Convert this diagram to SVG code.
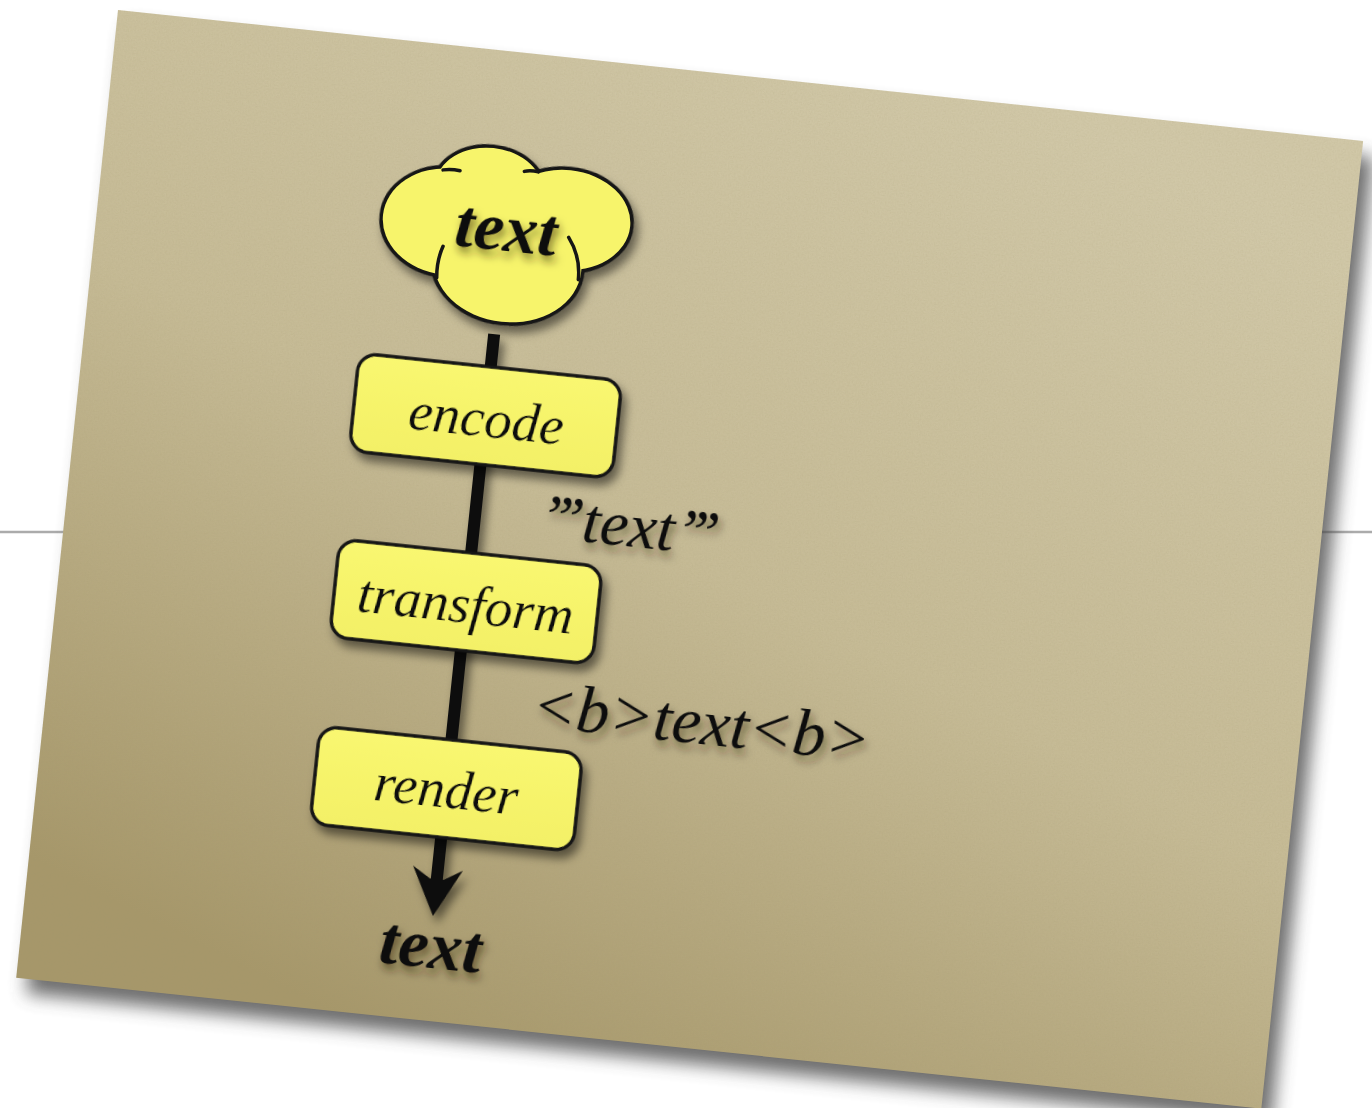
<svg xmlns="http://www.w3.org/2000/svg" width="1372" height="1108" viewBox="0 0 1372 1108">
<defs>
<style>
.box{fill:url(#yel);stroke:#161616;stroke-width:3.5}
.lbl{font-family:"Liberation Serif","Times New Roman",serif;font-style:italic;fill:#111}
.big{font-family:"Liberation Serif","Times New Roman",serif;font-style:italic;font-weight:bold;fill:#0d0d0d}
.crease{fill:none;stroke:#161616;stroke-width:3.5;stroke-linecap:round}
</style>
<linearGradient id="card" x1="0.75" y1="0" x2="0.25" y2="1">
<stop offset="0" stop-color="#d1c8a8"/>
<stop offset="0.5" stop-color="#c6bb96"/>
<stop offset="1" stop-color="#a6976a"/>
</linearGradient>
<linearGradient id="yel" x1="0" y1="0" x2="0" y2="1">
<stop offset="0" stop-color="#f9f770"/>
<stop offset="1" stop-color="#f3f066"/>
</linearGradient>
<filter id="cardShadow" x="-10%" y="-10%" width="120%" height="120%">
<feGaussianBlur stdDeviation="9"/>
</filter>
<filter id="paper" x="0" y="0" width="100%" height="100%">
<feTurbulence type="fractalNoise" baseFrequency="0.7" numOctaves="2" seed="5" result="n"/>
<feColorMatrix in="n" type="matrix" values="0 0 0 0 0.35  0 0 0 0 0.3  0 0 0 0 0.15  0.3 0 0 0 -0.1" result="m"/>
<feComposite in="m" in2="SourceGraphic" operator="in"/>
</filter>
<filter id="ds" x="-20%" y="-30%" width="150%" height="170%">
<feDropShadow dx="5" dy="7" stdDeviation="5" flood-color="#000" flood-opacity="0.5"/>
</filter>
<filter id="ts" x="-20%" y="-40%" width="150%" height="190%">
<feDropShadow dx="3" dy="6" stdDeviation="4" flood-color="#2a2400" flood-opacity="0.55"/>
</filter>
</defs>
<rect width="1372" height="1108" fill="#ffffff"/>
<line x1="0" y1="532" x2="1372" y2="532" stroke="#ababab" stroke-width="2.5"/>
<g transform="translate(10,16) rotate(6.006 118 10)">
<rect x="118" y="10" width="1252" height="973" fill="#4a4a4a" opacity="0.8" filter="url(#cardShadow)"/>
</g>
<g transform="rotate(6.006 118 10)">
<rect x="118" y="10" width="1252" height="973" fill="url(#card)"/>
<rect x="118" y="10" width="1252" height="973" fill="#000" filter="url(#paper)"/>

<g id="connectors" filter="url(#ds)">
<rect x="520" y="293" width="12" height="548" fill="#0a0a0a"/>
<path d="M501 830 L519 841 L533 841 L551 830 L526 878 Z" fill="#0a0a0a"/>
</g>

<g id="n-source">
<g filter="url(#ds)">
<g fill="#161616" stroke="#161616" stroke-width="7">
<ellipse cx="506" cy="149" rx="54" ry="41"/>
<ellipse cx="468" cy="186" rx="65" ry="53"/>
<ellipse cx="585" cy="172" rx="65" ry="50"/>
<ellipse cx="532" cy="222" rx="74" ry="58"/>
</g>
</g>
<g fill="#f7f46b">
<ellipse cx="506" cy="149" rx="54" ry="41"/>
<ellipse cx="468" cy="186" rx="65" ry="53"/>
<ellipse cx="585" cy="172" rx="65" ry="50"/>
<ellipse cx="532" cy="222" rx="74" ry="58"/>
</g>
<path class="crease" d="M458 135 Q466 133 475 134"/>
<path class="crease" d="M553 127 Q545 126 539 128"/>
<path class="crease" d="M463 243 Q461 226 466 211"/>
<path class="crease" d="M604 230 Q604 207 590 189"/>
<text class="big" x="527" y="209" font-size="68" text-anchor="middle" filter="url(#ts)">text</text>
</g>

<g id="n-encode" filter="url(#ds)">
<rect class="box" x="394" y="326" width="264" height="98" rx="18"/>
<text class="lbl" x="527" y="396" font-size="55" text-anchor="middle">encode</text>
</g>

<g id="n-transform" filter="url(#ds)">
<rect class="box" x="394" y="513" width="264" height="98" rx="18"/>
<text class="lbl" x="526" y="583" font-size="55" text-anchor="middle">transform</text>
</g>

<g id="n-render" filter="url(#ds)">
<rect class="box" x="394" y="701" width="264" height="98" rx="18"/>
<text class="lbl" x="526" y="769" font-size="55" text-anchor="middle">render</text>
</g>

<g id="label-quoted" filter="url(#ts)">
<text class="lbl" x="590" y="490" font-size="64"><tspan letter-spacing="-3">’’’</tspan><tspan dx="3">text</tspan><tspan letter-spacing="-3">’’’</tspan></text>
</g>

<g id="label-bold" filter="url(#ts)">
<text class="lbl" x="603" y="679" font-size="66">&lt;b&gt;text&lt;b&gt;</text>
</g>

<g id="n-output">
<text class="big" x="527" y="930" font-size="68" text-anchor="middle" filter="url(#ts)">text</text>
</g>
</g>
</svg>
